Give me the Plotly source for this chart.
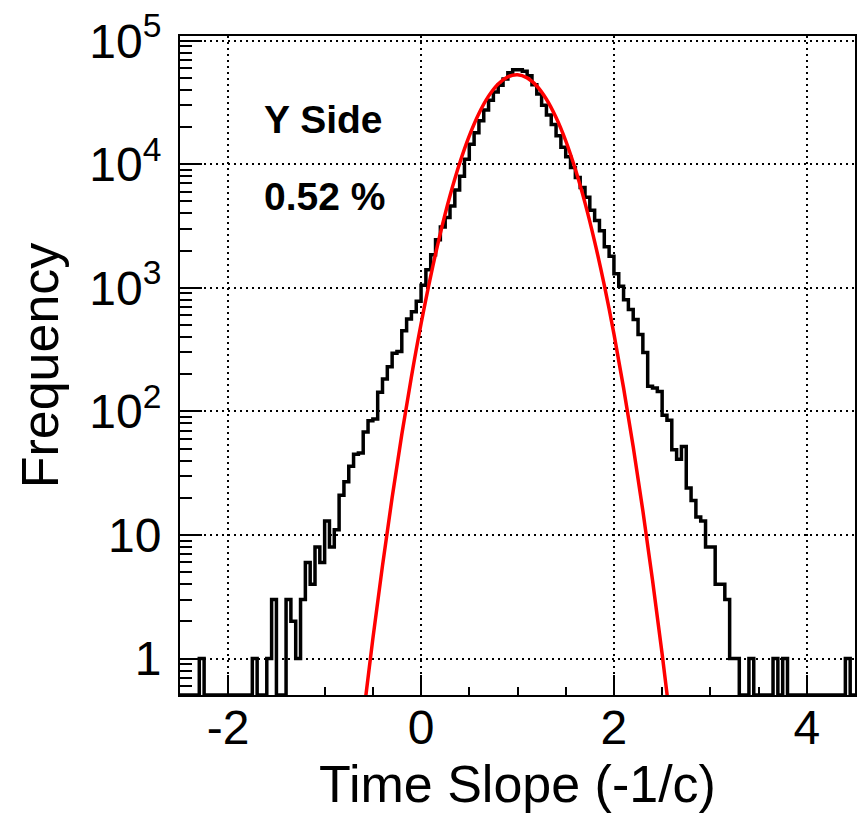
import plotly.graph_objects as go

# ---------------- data ----------------
x_min = -2.5
bin_width = 0.05
# counts per 0.05-wide bin starting at -2.5 (140 bins up to 4.5)
counts = [
    0, 0, 0, 0, 1, 0, 0, 0, 0, 0,
    0, 0, 0, 0, 0, 1, 0, 0, 1, 3,
    0, 0, 3, 2, 1, 3, 6, 4, 8, 6,
    13, 8, 11, 21, 27, 36, 45, 46, 68, 84,
    87, 143, 183, 230, 295, 305, 450, 560, 640, 780,
    1050, 1400, 1850, 2450, 3100, 3700, 4600, 6200, 8000, 11000,
    14500, 18000, 22500, 27500, 33000, 38500, 43500, 49000, 55000, 58300,
    58300, 56500, 52000, 44000, 37000, 30000, 25000, 21000, 17000, 13700,
    11500, 9400, 7800, 6500, 5400, 4250, 3500, 2900, 2150, 1800,
    1300, 1030, 800, 667, 555, 420, 300, 160, 155, 145,
    93, 85, 49, 41, 52, 24, 19, 14, 13, 8,
    8, 4, 4, 3, 1, 1, 0, 0, 1, 0,
    0, 0, 0, 1, 0, 1, 0, 0, 0, 0,
    0, 0, 0, 0, 0, 0, 0, 0, 1, 0,
]

# red fit curve
fit_x = [-0.6, -0.5, -0.4, -0.3, -0.2, -0.1, 0.0, 0.1, 0.2, 0.3, 0.4,
         0.5, 0.6, 0.7, 0.8, 0.9, 1.0, 1.1, 1.2, 1.3, 1.4, 1.5,
         1.6, 1.7, 1.8, 1.9, 2.0, 2.1, 2.2, 2.3, 2.4, 2.5, 2.6]
fit_y = [0.336, 1.45, 5.65, 20.1, 65.0, 191, 512, 1246, 2762, 5565, 10200,
         17000, 25800, 35600, 44700, 51000, 53000, 50000, 43000, 33600, 23900, 15500,
         9100, 4870, 2370, 1050, 424, 155, 51.8, 15.7, 4.33, 1.09, 0.249]

x_tick_vals = [-2, 0, 2, 4]
x_tick_text = ["-2", "0", "2", "4"]
y_tick_vals = [1, 10, 100, 1000, 10000, 100000]
y_tick_text = ["1", "10", "10<sup>2</sup>", "10<sup>3</sup>", "10<sup>4</sup>", "10<sup>5</sup>"]

label_side = "Y Side"
label_frac = "0.52 %"
x_title = "Time Slope (-1/c)"
y_title = "Frequency"

# ---------------- build ----------------
x_range = [-2.5, 4.5]
y_log_range = [-0.295, 5.038]
floor = 10 ** y_log_range[0]

edges = [x_min + bin_width * i for i in range(len(counts) + 1)]
hist_y = [c if c > 0 else floor for c in counts]
step_x = edges
step_y = hist_y + [hist_y[-1]]

fig = go.Figure()
fig.add_trace(go.Scatter(
    x=step_x, y=step_y, mode="lines", line_shape="hv",
    line=dict(color="black", width=3.5), hoverinfo="skip"))
fig.add_trace(go.Scatter(
    x=fit_x, y=fit_y, mode="lines", line_shape="spline",
    line=dict(color="#ff0000", width=3.5), hoverinfo="skip"))

font_family = "Liberation Sans, Arial, Helvetica, sans-serif"

minor_y = [m * 10 ** e for e in range(-1, 5) for m in range(2, 10)]
minor_y = [v for v in minor_y if 0.5 <= v <= 1.1e5]

fig.update_layout(
    width=864, height=818,
    margin=dict(l=180, r=7, t=31, b=123),
    paper_bgcolor="white", plot_bgcolor="white",
    showlegend=False,
    font=dict(family=font_family, color="black"),
    xaxis=dict(
        range=x_range, tickmode="array", tickvals=x_tick_vals, ticktext=x_tick_text,
        ticks="inside", ticklen=20, tickwidth=2, tickcolor="black",
        tickfont=dict(size=48), ticklabelstandoff=-11,
        minor=dict(dtick=0.5, tick0=0, ticks="inside", ticklen=8, tickwidth=2,
                   tickcolor="black", showgrid=False),
        showgrid=True, gridcolor="black", gridwidth=1.5, griddash="2px,4px",
        showline=True, linewidth=2, linecolor="black", mirror=True, zeroline=False,
        title=dict(text=x_title, font=dict(size=52), standoff=13),
    ),
    yaxis=dict(
        type="log", range=y_log_range, tickmode="array",
        tickvals=y_tick_vals, ticktext=y_tick_text,
        ticks="inside", ticklen=22, tickwidth=2, tickcolor="black",
        tickfont=dict(size=48), ticklabelstandoff=7,
        minor=dict(tickmode="array", tickvals=minor_y, ticks="inside", ticklen=12,
                   tickwidth=2, tickcolor="black", showgrid=False),
        showgrid=True, gridcolor="black", gridwidth=1.5, griddash="2px,4px",
        showline=True, linewidth=2, linecolor="black", mirror=True, zeroline=False,
        title=dict(text=y_title, font=dict(size=52), standoff=14),
    ),
    annotations=[
        dict(text="<b>%s</b>" % label_side, xref="paper", yref="paper",
             x=0.122, y=0.874, xanchor="left", yanchor="middle", showarrow=False,
             font=dict(size=39, family=font_family, color="black")),
        dict(text="<b>%s</b>" % label_frac, xref="paper", yref="paper",
             x=0.122, y=0.756, xanchor="left", yanchor="middle", showarrow=False,
             font=dict(size=39, family=font_family, color="black")),
    ],
)

fig.write_html("out.html")
